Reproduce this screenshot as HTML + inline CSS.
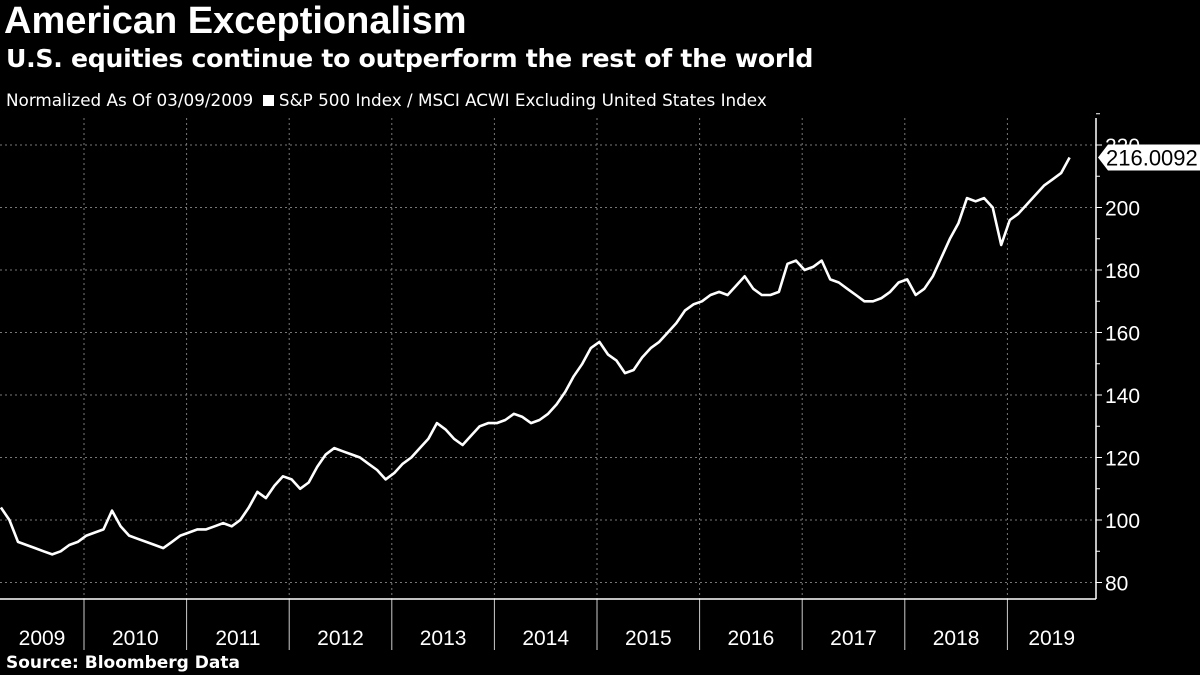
<!DOCTYPE html>
<html><head><meta charset="utf-8"><style>
body{margin:0;background:#000;width:1200px;height:675px;overflow:hidden;font-family:"Liberation Sans",sans-serif;color:#fff}
.t{position:absolute;left:6px;white-space:nowrap}
</style></head><body>
<div class="t" style="top:0px;font-size:38px;font-weight:bold;left:4px">American Exceptionalism</div>
<div class="t" style="top:44px;font-size:25.2px;font-weight:bold;font-family:'DejaVu Sans',sans-serif;letter-spacing:-0.3px">U.S. equities continue to outperform the rest of the world</div>
<div class="t" style="top:90px;font-size:16.8px;font-family:'DejaVu Sans',sans-serif">Normalized As Of 03/09/2009 <span style="display:inline-block;width:11px;height:11px;background:#fff;margin-left:4px"></span> S&amp;P 500 Index / MSCI ACWI Excluding United States Index</div>
<div class="t" style="top:653px;font-size:17px;font-weight:bold;font-family:'DejaVu Sans',sans-serif">Source: Bloomberg Data</div>
<svg id="c" width="1200" height="675" style="position:absolute;left:0;top:0"></svg>
<script>
const yTicks=[80,100,120,140,160,180,200,220];
const years=[2009,2010,2011,2012,2013,2014,2015,2016,2017,2018,2019];
const values=[104,100,93,92,91,90,89,90,92,93,
95,96,97,103,98,95,94,93,92,91,93,95,
96,97,97,98,99,98,100,104,109,107,111,114,
113,110,112,117,121,123,122,121,120,118,116,113,
115,118,120,123,126,131,129,126,124,127,130,131,
131,132,134,133,131,132,134,137,141,146,150,155,
157,153,151,147,148,152,155,157,160,163,167,169,
170,172,173,172,175,178,174,172,172,173,182,183,
180,181,183,177,176,174,172,170,170,171,173,176,
177,172,174,178,184,190,195,203,202,203,200,188,
196,198,201,204,207,209,211,216];
const lastLabel="216.0092";
const startT=2009.19;
const ns="http://www.w3.org/2000/svg";
const svg=document.getElementById('c');
const x=t=>84+(t-2010)*102.6;
const y=v=>520-(v-100)*3.125;
function mk(tag,a){const e=document.createElementNS(ns,tag);for(const k in a)e.setAttribute(k,a[k]);svg.appendChild(e);return e;}
yTicks.forEach(v=>{
 const g=mk('line',{x1:0,x2:1096,y1:y(v),y2:y(v),stroke:'#777','stroke-dasharray':'2,3','stroke-width':1});
 
 
 const tk=mk('line',{x1:1096,x2:1102,y1:y(v),y2:y(v),stroke:'#fff'});
 
 
 const m=mk('line',{x1:1096,x2:1100,y1:y(v+10),y2:y(v+10),stroke:'#fff'});
 
 
 const t=mk('text',{x:1105,y:y(v)+8,fill:'#fff','font-size':21,'font-family':'Liberation Sans'});
 t.textContent=v;
 
 
});
years.forEach((yr,i)=>{
 const xs=x(yr+1);
 if(i<years.length-1){
 const g=mk('line',{x1:xs,x2:xs,y1:118,y2:599,stroke:'#777','stroke-dasharray':'2,3'});
 
 
 const s=mk('line',{x1:xs,x2:xs,y1:599,y2:650,stroke:'#ccc'});
 
 
 }
 const l=Math.max(0,x(yr)),r=Math.min(1096,x(yr+1));
 const t=mk('text',{x:(l+r)/2,y:645,fill:'#fff','font-size':21,'text-anchor':'middle','font-family':'Liberation Sans'});
 t.textContent=yr;
 
 
});
const ax=mk('line',{x1:0,x2:1096,y1:599,y2:599,stroke:'#fff','stroke-width':1.5});


const ay=mk('line',{x1:1096,x2:1096,y1:118,y2:599,stroke:'#fff','stroke-width':1.5});


const pts=values.map((v,i)=>x(startT+i/12).toFixed(1)+','+y(v).toFixed(1)).join(' ');
const line=mk('polyline',{points:pts,fill:'none',stroke:'#fff','stroke-width':2.6,'stroke-linejoin':'round'});


const ly=y(values[values.length-1]);
const box=mk('polygon',{points:`1098,${ly} 1108,${ly-13} 1200,${ly-13} 1200,${ly+13} 1108,${ly+13}`,fill:'#fff'});


const lt=mk('text',{x:1106,y:ly+8,fill:'#000','font-size':22,'font-family':'Liberation Sans'});
lt.textContent=lastLabel;


</script>
</body></html>
